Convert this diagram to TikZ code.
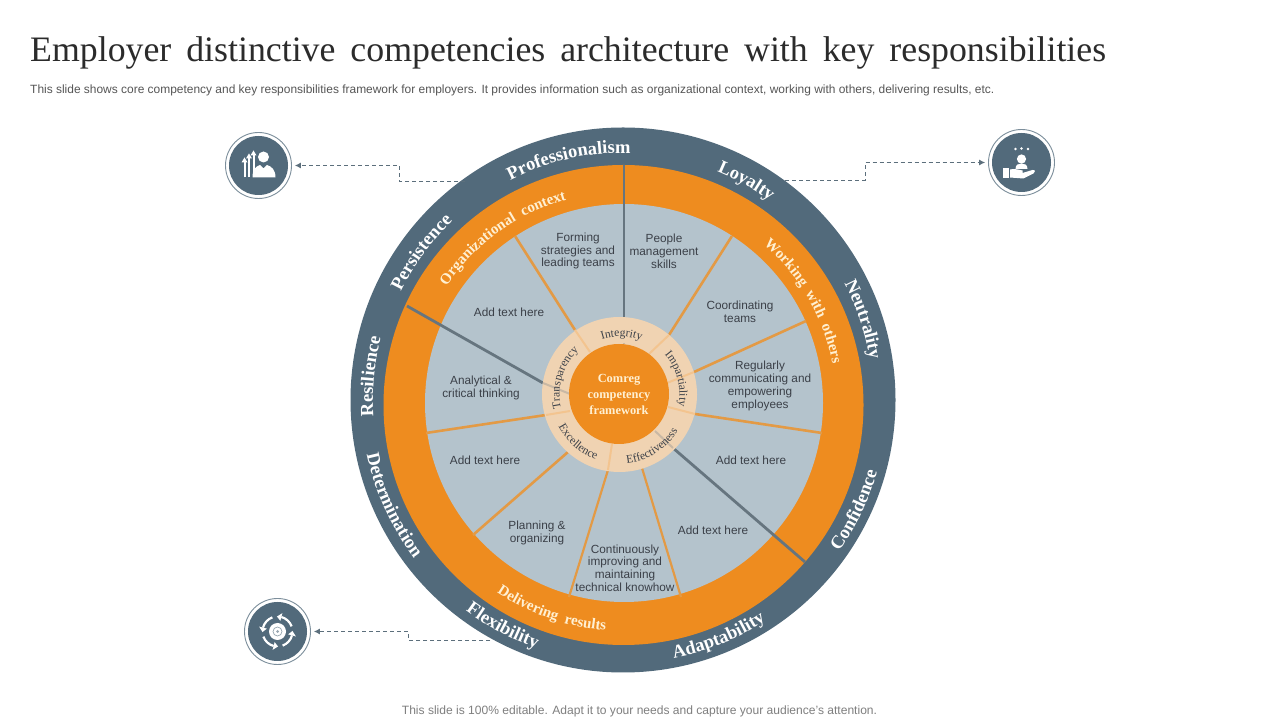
\documentclass[tikz,border=0pt]{standalone}
\usepackage{fontspec}
\setmainfont{Liberation Serif}
\newfontfamily\arialf{Liberation Sans}
\usetikzlibrary{arrows.meta,decorations.text,calc}
\definecolor{slatec}{HTML}{526A7B}
\definecolor{orangec}{HTML}{EE8C1F}
\definecolor{grayc}{HTML}{B4C3CC}
\definecolor{tanc}{HTML}{F0D3B2}
\definecolor{spokeo}{HTML}{E39A45}
\definecolor{spokeg}{HTML}{66757F}
\definecolor{lighto}{HTML}{F3C48F}
\definecolor{lightg}{HTML}{C9B8A4}
\definecolor{labelc}{HTML}{3B4048}
\definecolor{titlec}{HTML}{2B2B2B}
\definecolor{subc}{HTML}{555555}
\definecolor{footc}{HTML}{7F7F7F}
\definecolor{dashc}{HTML}{5C6F7C}
\definecolor{creamc}{HTML}{FFF0D2}
\definecolor{ringc}{HTML}{7C8E9B}
\newcommand{\outerfont}{\fontsize{18.5}{20}\selectfont\bfseries\color{white}}
\newcommand{\midfont}{\fontsize{15}{17}\selectfont\bfseries\color{creamc}}
\newcommand{\ringfont}{\fontsize{11.6}{12}\selectfont\color{labelc}}
% #1 centre, #2 radius, #3 mid angle, #4 font macro, #5 text : clockwise (reads along the top)
\newcommand{\cwtext}[5]{\path[decorate,decoration={text along path,text align=center,text={|#4|#5}}]
  ($(#1)+(#3+75:#2)$) arc[start angle=#3+75,end angle=#3-75,radius=#2];}
% counter-clockwise (reads along the bottom)
\newcommand{\ccwtext}[5]{\path[decorate,decoration={text along path,text align=center,text={|#4|#5}}]
  ($(#1)+(#3-75:#2)$) arc[start angle=#3-75,end angle=#3+75,radius=#2];}
\tikzset{
  disc/.style={circle,inner sep=0pt,minimum size=#1},
  lbl/.style={font=\arialf\fontsize{11.8}{12.8}\selectfont,text=labelc,align=center,inner sep=0pt},
  spoke/.style={line width=2.6pt,draw=spokeo},
  gspoke/.style={line width=2.8pt,draw=spokeg},
  lspoke/.style={line width=2pt,draw=lighto},
  glspoke/.style={line width=2pt,draw=lightg},
  dashline/.style={draw=dashc,line width=.8pt,dash pattern=on 4pt off 3pt,-{Latex[length=6pt,width=6pt]},shorten >=3pt},
  iconring/.style={disc=66pt,draw=ringc,line width=.9pt,fill=white},
  iconcore/.style={disc=59pt,fill=slatec},
  glyph/.style={fill=white,draw=none},
  glyphline/.style={draw=white,line width=1.6pt}
}
\begin{document}
\begin{tikzpicture}[x=1pt,y=1pt]
\useasboundingbox (0,0) rectangle (1280,720);
\fill[white] (0,0) rectangle (1280,720);

% texts of the header and footer
\node[anchor=base west,inner sep=0pt,text=titlec,font=\fontsize{35.8}{38}\selectfont] (title) at (30,658)
  {Employer\hspace{6pt} distinctive\hspace{6pt} competencies\hspace{6pt} architecture\hspace{6pt} with\hspace{6pt} key\hspace{6pt} responsibilities};
\node[anchor=base west,inner sep=0pt,text=subc,font=\arialf\fontsize{11.95}{13}\selectfont] (sub) at (30,626)
  {This slide shows core competency and key responsibilities framework for employers. It provides information such as organizational context, working with others, delivering results, etc.};
\node[anchor=base,inner sep=0pt,text=footc,font=\arialf\fontsize{12.05}{13}\selectfont] (foot) at (639.5,5)
  {This slide is 100\% editable. Adapt it to your needs and capture your audience’s attention.};

% wheel
\node[disc=545pt,fill=slatec] (outer) at (623,320) {};
\node[disc=480pt,fill=orangec] (band) at (623.5,315) {};
\node[disc=398pt,fill=grayc] (field) at (624,317) {};

% spoke ends
\coordinate (s1a) at (624,555); \coordinate (s1b) at (624,377); \coordinate (s1c) at (624,376);
\coordinate (s2a) at (732,484); \coordinate (s2b) at (669,385); \coordinate (s2c) at (649,366);
\coordinate (s3a) at (806,399); \coordinate (s3b) at (694,348); \coordinate (s3c) at (667,337);
\coordinate (s4a) at (822,287); \coordinate (s4b) at (695,306); \coordinate (s4c) at (668,313);
\coordinate (s5a) at (805,158); \coordinate (s5b) at (673,272); \coordinate (s5c) at (655,289);
\coordinate (s6a) at (681,123); \coordinate (s6b) at (642,252);
\coordinate (s7a) at (569,123); \coordinate (s7b) at (608,250); \coordinate (s7c) at (612,276);
\coordinate (s8a) at (473,185); \coordinate (s8b) at (568,268);
\coordinate (s9a) at (426,287); \coordinate (s9b) at (546,305); \coordinate (s9c) at (570,309);
\coordinate (s10a) at (407,414); \coordinate (s10b) at (543,337); \coordinate (s10c) at (570,326);
\coordinate (s11a) at (515,484); \coordinate (s11b) at (575,390); \coordinate (s11c) at (590,368);

\draw[gspoke] (s1a) -- (s1b);
\draw[spoke] (s2a) -- (s2b);
\draw[spoke] (s3a) -- (s3b);
\draw[spoke] (s4a) -- (s4b);
\draw[gspoke] (s5a) -- (s5b);
\draw[spoke,line width=2.2pt] (s6a) -- (s6b);
\draw[spoke,line width=2.2pt] (s7a) -- (s7b);
\draw[spoke] (s8a) -- (s8b);
\draw[spoke] (s9a) -- (s9b);
\draw[gspoke] (s10a) -- (s10b);
\draw[spoke] (s11a) -- (s11b);

% central rings
\node[disc=155pt,fill=tanc] (tan) at (619.5,325.5) {};
\draw[glspoke] (s1b) -- (s1c);
\draw[lspoke] (s2b) -- (s2c);
\draw[lspoke] (s3b) -- (s3c);
\draw[lspoke] (s4b) -- (s4c);
\draw[glspoke] (s5b) -- (s5c);
\draw[lspoke] (s7b) -- (s7c);
\draw[lspoke] (s9b) -- (s9c);
\draw[glspoke] (s10b) -- (s10c);
\draw[lspoke] (s11b) -- (s11c);
\node[disc=100pt,fill=orangec] (core) at (619,326) {};
\node[font=\fontsize{12.4}{16}\selectfont\bfseries,text=creamc,align=center,inner sep=0pt] (coretext) at (619,326)
  {Comreg\\competency\\framework};

% segment labels
\node[lbl] (l1) at (578,469) {Forming\\strategies and\\leading teams};
\node[lbl] (l2) at (664,469) {People\\management\\skills};
\node[lbl] (l3) at (740,408) {Coordinating\\teams};
\node[lbl] (l4) at (760,334) {Regularly\\communicating and\\empowering\\employees};
\node[lbl] (l5) at (509,407.5) {Add text here};
\node[lbl] (l6) at (481,332) {Analytical \&\\critical thinking};
\node[lbl] (l7) at (485,259.5) {Add text here};
\node[lbl] (l8) at (751,259.5) {Add text here};
\node[lbl] (l9) at (713,189.5) {Add text here};
\node[lbl] (l10) at (537,187) {Planning \&\\organizing};
\node[lbl] (l11) at (625,152) {Continuously\\improving and\\maintaining\\technical knowhow};

% curved labels, outer band
\cwtext{outer}{247}{102.7}{\outerfont}{Professionalism}
\cwtext{outer}{247}{60.6}{\outerfont}{Loyalty}
\cwtext{outer}{250}{18.5}{\outerfont}{Neutrality}
\ccwtext{outer}{264}{-25.4}{\outerfont}{Confidence}
\ccwtext{outer}{263}{-68}{\outerfont}{Adaptability}
\ccwtext{outer}{263}{242}{\outerfont}{Flexibility}
\ccwtext{outer}{262}{204.6}{\outerfont}{Determination}
\cwtext{outer}{250}{174.6}{\outerfont}{Resilience}
\cwtext{outer}{247}{143.8}{\outerfont}{Persistence}

% curved labels, orange band
\cwtext{band}{213}{125.8}{\midfont}{Organizational{\ \ }context}
\cwtext{band}{213}{30}{\midfont}{Working{\ \ }with{\ \ }others}
\ccwtext{band}{226}{250.7}{\midfont}{Delivering{\ \ }results}

% curved labels, tan ring
\cwtext{tan}{58}{88}{\ringfont}{Integrity}
\cwtext{tan}{60}{15}{\ringfont}{Impartiality}
\ccwtext{tan}{69}{-58}{\ringfont}{Effectiveness}
\ccwtext{tan}{69}{229}{\ringfont}{Excellence}
\cwtext{tan}{60}{163}{\ringfont}{Transparency}

% icons
\node[iconring] (ic1) at (258.5,554.5) {};
\node[iconcore] at (ic1) {};
\node[iconring] (ic2) at (1021.5,557.5) {};
\node[iconcore] at (ic2) {};
\node[iconring] (ic3) at (277.5,88.5) {};
\node[iconcore] at (ic3) {};

% dashed connectors
\coordinate (d1a) at (465,539); \coordinate (d1b) at (399,539); \coordinate (d1c) at (399,554.5);
\draw[dashline] (d1a) -- (d1b) -- (d1c) -- (ic1);
\coordinate (d2a) at (785,540); \coordinate (d2b) at (865,540); \coordinate (d2c) at (865,557.5);
\draw[dashline] (d2a) -- (d2b) -- (d2c) -- (ic2);
\coordinate (d3a) at (490,80); \coordinate (d3b) at (408,80); \coordinate (d3c) at (408,88.5);
\draw[dashline] (d3a) -- (d3b) -- (d3c) -- (ic3);

% icon 1: person with rising arrows
\begin{scope}[shift={(ic1)}]
  \fill[glyph] (5,8.5) circle (5.5);
  \fill[glyph] (-6,-12) .. controls (-6,-4) and (-3,-1) .. (1.5,0.5) -- (5,-3) -- (8.5,0.5) .. controls (13,-1) and (17,-4) .. (17,-12) -- cycle;
  \foreach \ax/\ay in {-14/3,-9.5/7,-5/10}{
    \draw[glyphline,line width=2pt] (\ax,-12) -- (\ax,\ay);
    \fill[glyph] (\ax-3,\ay) -- (\ax,\ay+5) -- (\ax+3,\ay) -- cycle;
  }
\end{scope}

% icon 2: hand holding a person with stars
\begin{scope}[shift={(ic2)}]
  \fill[glyph] (0,3.5) circle (4.6);
  \fill[glyph] (-6,-6.5) .. controls (-6,-2) and (-3,-1) .. (0,-1) .. controls (3,-1) and (6,-2) .. (6,-6.5) -- cycle;
  \foreach \sx/\sy in {-6/13.5,0/14,6.5/13.5}{
    \fill[glyph] (\sx,\sy) circle (1.3);
  }
  \fill[glyph] (-19,-6) -- (-12.5,-6) -- (-12.5,-16) -- (-19,-16) -- cycle;
  \fill[glyph] (-11.5,-7) .. controls (-8,-6) and (-3,-7) .. (1,-8) -- (1,-10.5) -- (11,-7.5) .. controls (14,-7) and (14,-10) .. (12,-11) -- (2,-16) -- (-11.5,-15) -- cycle;
\end{scope}

% icon 3: rotating arrows around a gear
\begin{scope}[shift={(ic3)}]
  \foreach \st in {20,110,200,290}{
    \draw[draw=white,line width=2.2pt] (\st:15) arc[start angle=\st,end angle=\st+55,radius=15];
    \fill[glyph] (\st+55:11) -- (\st+55:19) -- (\st+72:15) -- cycle;
  }
  \fill[glyph] (0,0) circle (8.5);
  \draw[draw=slatec!60,line width=.7pt] (0,0) circle (4.5);
  \fill[slatec!60] (0,0) circle (1.5);
\end{scope}
\end{tikzpicture}
\end{document}
